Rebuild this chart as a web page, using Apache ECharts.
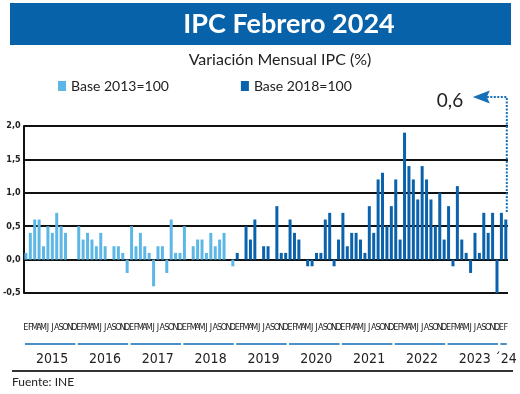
<!DOCTYPE html>
<html><head><meta charset="utf-8">
<script src="https://cdn.jsdelivr.net/npm/echarts@6/dist/echarts.min.js"></script>
<style>html,body{margin:0;padding:0;background:#fff}#c{width:520px;height:394px}</style>
</head><body><div id="c"></div>
<script>
// ---- data ----
const monthLetters = ['E','F','M','A','M','J','J','A','S','O','N','D'];
const yearLabels = ['2015','2016','2017','2018','2019','2020','2021','2022','2023','\u00B424'];
const monthsPerYear = [12,12,12,12,12,12,12,12,12,2];
const yTicks = [-0.5, 0, 0.5, 1, 1.5, 2];
// Base 2013=100 : Jan 2015 .. Dec 2018
const base2013 = [
  0.1,0.4,0.6,0.6,0.2,0.5,0.4,0.7,0.5,0.4,0.0,0.0,
  0.5,0.3,0.4,0.3,0.2,0.4,0.2,0.0,0.2,0.2,0.1,-0.2,
  0.5,0.2,0.4,0.2,0.1,-0.4,0.2,0.2,-0.2,0.6,0.1,0.1,
  0.5,0.0,0.2,0.3,0.3,0.1,0.4,0.2,0.3,0.4,0.0,-0.1
];
// Base 2018=100 : Jan 2019 .. Feb 2024
const base2018 = [
  0.1,0.0,0.5,0.3,0.6,0.0,0.2,0.2,0.0,0.8,0.1,0.1,
  0.6,0.4,0.3,0.0,-0.1,-0.1,0.1,0.1,0.6,0.7,-0.1,0.3,
  0.7,0.2,0.4,0.4,0.3,0.1,0.8,0.4,1.2,1.3,0.5,0.8,
  1.2,0.3,1.9,1.4,1.2,0.9,1.4,1.2,0.9,0.5,1.0,0.3,
  0.8,-0.1,1.1,0.3,0.1,-0.2,0.4,0.1,0.7,0.4,0.7,-0.5,
  0.7,0.6
];
const seriesNames = ['Base 2013=100', 'Base 2018=100'];
const titleText = 'IPC Febrero 2024';
const subtitleText = 'Variaci\u00F3n Mensual IPC (%)';
const sourceText = 'Fuente: INE';

// ---- build ----
const categories = [];
const yearRanges = [];
yearLabels.forEach((y, i) => {
  const start = categories.length;
  for (let m = 0; m < monthsPerYear[i]; m++) categories.push(y + '-' + m);
  yearRanges.push([start, categories.length - 1, yTicks[0]]);
});
const n = categories.length;
const s1 = categories.map((c, i) => i < base2013.length ? base2013[i] : '-');
const s2 = categories.map((c, i) => i >= base2013.length ? base2018[i - base2013.length] : '-');

const LIGHT = '#5DB7E6', DARK = '#0A62AC', BAND = '#0862A9';
const narrow = '"Liberation Sans Narrow","DejaVu Sans Condensed",sans-serif';
const human = 'Lato,"Open Sans",sans-serif';

const chart = echarts.init(document.getElementById('c'), null, {renderer: 'canvas'});
chart.setOption({
  animation: false,
  backgroundColor: '#fff',
  title: [
    {text: titleText, left: 284, top: 6, textAlign: 'center',
     textStyle: {color: '#fff', fontSize: 27, fontWeight: 'bold', fontFamily: human}},
    {text: subtitleText, left: 275, top: 47, textAlign: 'center',
     textStyle: {color: '#222', fontSize: 16, fontWeight: 'normal', fontFamily: human}}
  ],
  legend: {
    data: seriesNames, left: 53, top: 74, icon: 'rect', itemWidth: 8, itemHeight: 10,
    itemGap: 72, textStyle: {color: '#222', fontSize: 14, fontFamily: human}
  },
  grid: {left: 22, right: 12, top: 126, bottom: 101, containLabel: false},
  xAxis: {
    type: 'category', data: categories,
    axisLine: {show: false}, axisTick: {show: false},
    axisLabel: {interval: 0, hideOverlap: false, margin: 30, fontSize: 9, color: '#222', fontFamily: narrow,
      formatter: v => monthLetters[+v.split('-')[1]]}
  },
  yAxis: {
    type: 'value', min: yTicks[0], max: yTicks[yTicks.length - 1], interval: 0.5,
    axisLine: {show: true, lineStyle: {color: '#111', width: 2}},
    axisTick: {show: false},
    axisLabel: {margin: 3, fontSize: 9, fontWeight: 'bold', color: '#222', fontFamily: narrow,
      formatter: v => v.toFixed(1).replace('.', ',')},
    splitLine: {show: true, lineStyle: {color: '#111', width: 2}}
  },
  series: [
    {name: seriesNames[0], type: 'bar', data: s1, barWidth: 3, barGap: '-100%',
     itemStyle: {color: LIGHT}},
    {name: seriesNames[1], type: 'bar', data: s2, barWidth: 3, barGap: '-100%',
     itemStyle: {color: DARK}},
    {type: 'custom', data: yearRanges, encode: {x: [0, 1], y: 2}, clip: false, silent: true,
     renderItem: (params, api) => {
       const s = api.coord([api.value(0), yTicks[0]]);
       const e = api.coord([api.value(1), yTicks[0]]);
       const y0 = s[1];
       return {type: 'group', children: [
         {type: 'line', shape: {x1: s[0] - 1, y1: y0 + 51, x2: e[0] + 1, y2: y0 + 51},
          style: {stroke: '#4B8FCA', lineWidth: 2}},
         {type: 'text', x: (s[0] + e[0]) / 2 + 2, y: y0 + 66,
          style: {text: yearLabels[params.dataIndex], align: 'center', verticalAlign: 'middle',
                  fontSize: 14, fontFamily: narrow, fill: '#222'}}
       ]};
     }}
  ]
});

// decorations + annotation anchored on the last bar
const lastVal = base2018[base2018.length - 1];
const p = chart.convertToPixel({gridIndex: 0}, [n - 1, lastVal]);
const topPx = chart.convertToPixel({gridIndex: 0}, [n - 1, yTicks[yTicks.length - 1]]);
const ay = topPx[1] - 29;
const vx = p[0] + 1;
chart.setOption({
  graphic: [
    {type: 'rect', left: 10, top: 3, z: -1, shape: {width: 501, height: 42}, style: {fill: BAND}},
    {type: 'line', shape: {x1: 12, y1: 371, x2: 513, y2: 371}, style: {stroke: '#333', lineWidth: 2}},
    {type: 'text', left: 12, top: 376, style: {text: sourceText, fontSize: 12, fontFamily: human, fill: '#222'}},
    {type: 'text', x: vx - 70, y: ay + 4, style: {text: lastVal.toFixed(1).replace('.', ','), fontSize: 19,
      fontFamily: human, fill: '#222', align: 'left', verticalAlign: 'middle'}},
    {type: 'polygon', shape: {points: [[vx - 34, ay], [vx - 17, ay - 6.5], [vx - 20, ay], [vx - 17, ay + 6.5]]},
      style: {fill: '#1570B8'}},
    {type: 'polyline', shape: {points: [[vx - 20, ay], [vx, ay], [vx, p[1] - 7]]},
      style: {stroke: '#1570B8', lineWidth: 2, lineDash: [2, 1.5], fill: null}}
  ]
});
</script></body></html>
